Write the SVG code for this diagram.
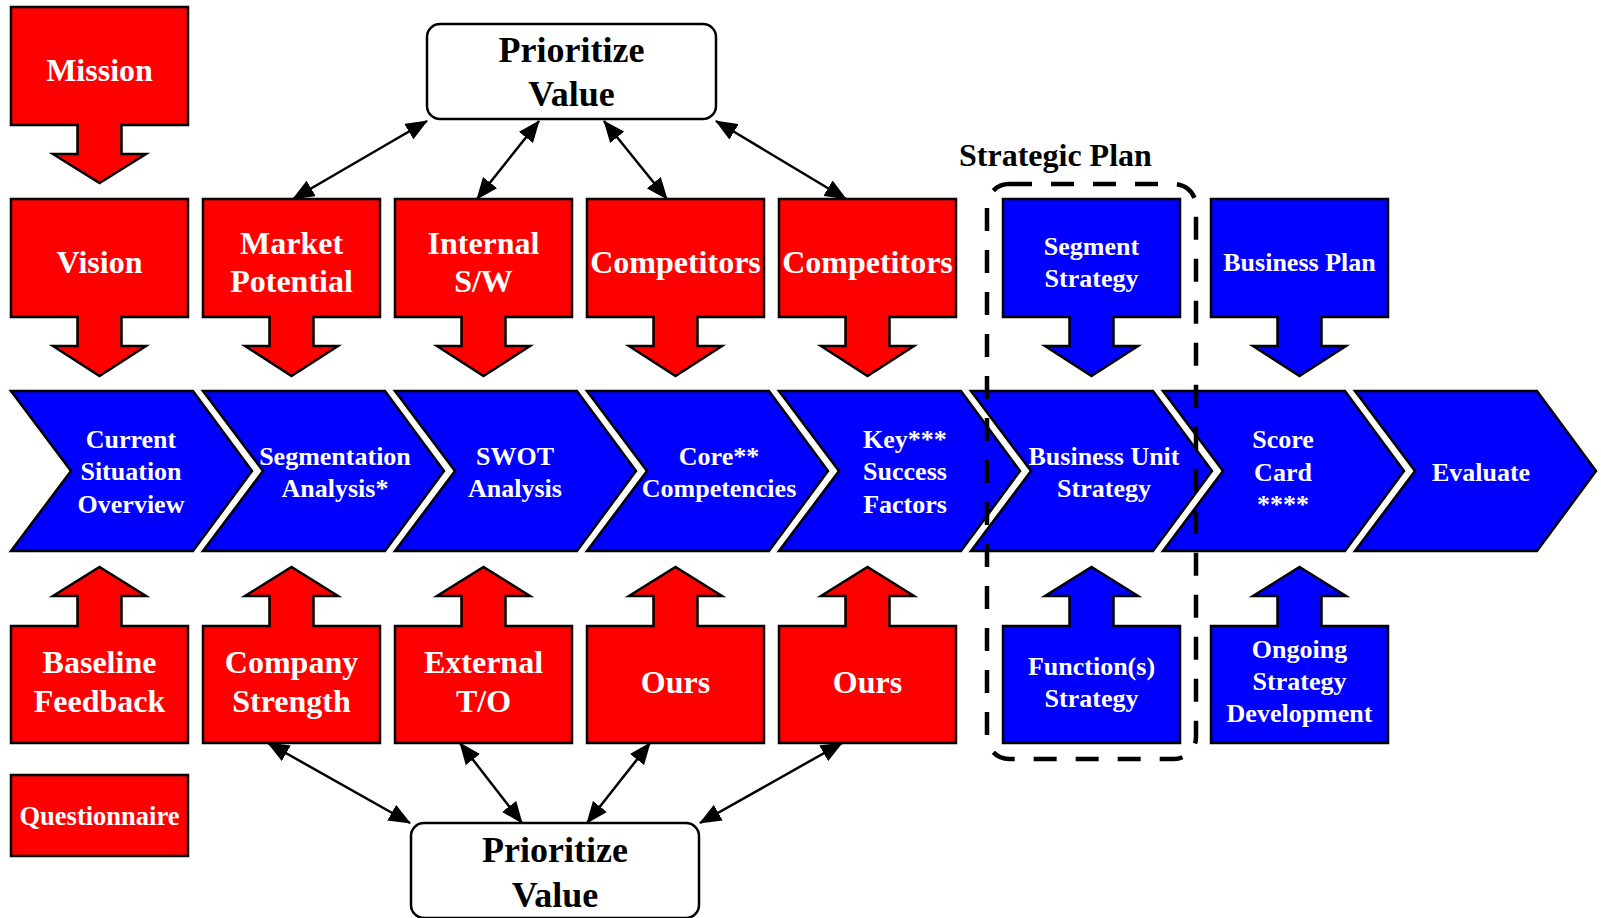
<svg xmlns="http://www.w3.org/2000/svg" width="1601" height="918" viewBox="0 0 1601 918">
<defs>
<style>
.red{fill:#FF0000;stroke:#000;stroke-width:2.5;stroke-linejoin:miter}
.blue{fill:#0000FF;stroke:#000;stroke-width:2.5;stroke-linejoin:miter}
.pv{fill:#fff;stroke:#000;stroke-width:2.5}
.t{font-family:"Liberation Serif","Times New Roman",serif;font-weight:bold;fill:#fff;text-anchor:middle}
.t32{font-size:32px}
.t26{font-size:26px}
.tb{font-family:"Liberation Serif","Times New Roman",serif;font-weight:bold;fill:#000;text-anchor:middle;font-size:36px}
.conn{stroke:#000;stroke-width:2.5;fill:none;marker-start:url(#ah);marker-end:url(#ah)}
.dash{fill:none;stroke:#000;stroke-width:4.5;stroke-dasharray:23 19}
</style>
<marker id="ah" markerUnits="userSpaceOnUse" markerWidth="22" markerHeight="18" viewBox="0 0 22 18" refX="21" refY="9" orient="auto-start-reverse">
<path d="M0,0 L22,9 L0,18 z" fill="#000"/>
</marker>
</defs>

<g id="connectors">
<line class="conn" x1="293" y1="199" x2="427" y2="121"/>
<line class="conn" x1="477" y1="199" x2="539" y2="121"/>
<line class="conn" x1="667" y1="199" x2="604" y2="121"/>
<line class="conn" x1="846" y1="199" x2="716" y2="121"/>
<line class="conn" x1="268" y1="743" x2="410" y2="823"/>
<line class="conn" x1="460" y1="743" x2="522" y2="823"/>
<line class="conn" x1="650" y1="743" x2="587" y2="823"/>
<line class="conn" x1="842" y1="743" x2="700" y2="823"/>
</g>

<g id="prioritize-top">
<rect class="pv" x="427" y="24" width="289" height="95" rx="13"/>
<text class="tb" x="571.5" y="62">Prioritize</text>
<text class="tb" x="571.5" y="106">Value</text>
</g>
<g id="prioritize-bottom">
<rect class="pv" x="411" y="823" width="288" height="95" rx="13"/>
<text class="tb" x="555" y="862">Prioritize</text>
<text class="tb" x="555" y="907">Value</text>
</g>

<g id="mission">
<polygon class="red" points="11,7 188,7 188,125 121.5,125 121.5,154 146,154 99.5,183 53,154 77.5,154 77.5,125 11,125"/>
<text class="t t32" x="99.5" y="81">Mission</text>
</g>

<g id="vision">
<polygon class="red" points="11,199 188,199 188,317 121.5,317 121.5,346 146,346 99.5,376 53,346 77.5,346 77.5,317 11,317"/>
<text class="t t32" x="99.5" y="273">Vision</text>
</g>
<g id="market-potential">
<polygon class="red" points="203,199 380,199 380,317 313.5,317 313.5,346 338,346 291.5,376 245,346 269.5,346 269.5,317 203,317"/>
<text class="t t32" x="291.5" y="254">Market</text>
<text class="t t32" x="291.5" y="292">Potential</text>
</g>
<g id="internal-sw">
<polygon class="red" points="395,199 572,199 572,317 505.5,317 505.5,346 530,346 483.5,376 437,346 461.5,346 461.5,317 395,317"/>
<text class="t t32" x="483.5" y="254">Internal</text>
<text class="t t32" x="483.5" y="292">S/W</text>
</g>
<g id="competitors-1">
<polygon class="red" points="587,199 764,199 764,317 697.5,317 697.5,346 722,346 675.5,376 629,346 653.5,346 653.5,317 587,317"/>
<text class="t t32" x="675.5" y="273">Competitors</text>
</g>
<g id="competitors-2">
<polygon class="red" points="779,199 956,199 956,317 889.5,317 889.5,346 914,346 867.5,376 821,346 845.5,346 845.5,317 779,317"/>
<text class="t t32" x="867.5" y="273">Competitors</text>
</g>
<g id="segment-strategy">
<polygon class="blue" points="1003,199 1180,199 1180,317 1113.5,317 1113.5,346 1138,346 1091.5,376 1045,346 1069.5,346 1069.5,317 1003,317"/>
<text class="t t26" x="1091.5" y="255">Segment</text>
<text class="t t26" x="1091.5" y="287">Strategy</text>
</g>
<g id="business-plan">
<polygon class="blue" points="1211,199 1388,199 1388,317 1321.5,317 1321.5,346 1346,346 1299.5,376 1253,346 1277.5,346 1277.5,317 1211,317"/>
<text class="t t26" x="1299.5" y="271">Business Plan</text>
</g>

<g id="chevron-current">
<polygon class="blue" points="11,391 193,391 252,471 193,551 11,551 71,471"/>
<text class="t t26" x="131" y="448">Current</text>
<text class="t t26" x="131" y="480">Situation</text>
<text class="t t26" x="131" y="513">Overview</text>
</g>
<g id="chevron-segmentation">
<polygon class="blue" points="203,391 385,391 444,471 385,551 203,551 263,471"/>
<text class="t t26" x="335" y="465">Segmentation</text>
<text class="t t26" x="335" y="497">Analysis*</text>
</g>
<g id="chevron-swot">
<polygon class="blue" points="395,391 577,391 636,471 577,551 395,551 455,471"/>
<text class="t t26" x="515" y="465">SWOT</text>
<text class="t t26" x="515" y="497">Analysis</text>
</g>
<g id="chevron-core">
<polygon class="blue" points="587,391 769,391 828,471 769,551 587,551 647,471"/>
<text class="t t26" x="719" y="465">Core**</text>
<text class="t t26" x="719" y="497">Competencies</text>
</g>
<g id="chevron-key">
<polygon class="blue" points="779,391 961,391 1020,471 961,551 779,551 839,471"/>
<text class="t t26" x="905" y="448">Key***</text>
<text class="t t26" x="905" y="480">Success</text>
<text class="t t26" x="905" y="513">Factors</text>
</g>
<g id="chevron-business-unit">
<polygon class="blue" points="971,391 1153,391 1212,471 1153,551 971,551 1031,471"/>
<text class="t t26" x="1104" y="465">Business Unit</text>
<text class="t t26" x="1104" y="497">Strategy</text>
</g>
<g id="chevron-score-card">
<polygon class="blue" points="1163,391 1345,391 1404,471 1345,551 1163,551 1223,471"/>
<text class="t t26" x="1283" y="448">Score</text>
<text class="t t26" x="1283" y="481">Card</text>
<text class="t t26" x="1283" y="513">****</text>
</g>
<g id="chevron-evaluate">
<polygon class="blue" points="1355,391 1537,391 1596,471 1537,551 1355,551 1415,471"/>
<text class="t t26" x="1481" y="481">Evaluate</text>
</g>

<g id="baseline-feedback">
<polygon class="red" points="11,626 77.5,626 77.5,596 53,596 99.5,567 146,596 121.5,596 121.5,626 188,626 188,743 11,743"/>
<text class="t t32" x="99.5" y="673">Baseline</text>
<text class="t t32" x="99.5" y="712">Feedback</text>
</g>
<g id="company-strength">
<polygon class="red" points="203,626 269.5,626 269.5,596 245,596 291.5,567 338,596 313.5,596 313.5,626 380,626 380,743 203,743"/>
<text class="t t32" x="291.5" y="673">Company</text>
<text class="t t32" x="291.5" y="712">Strength</text>
</g>
<g id="external-to">
<polygon class="red" points="395,626 461.5,626 461.5,596 437,596 483.5,567 530,596 505.5,596 505.5,626 572,626 572,743 395,743"/>
<text class="t t32" x="483.5" y="673">External</text>
<text class="t t32" x="483.5" y="712">T/O</text>
</g>
<g id="ours-1">
<polygon class="red" points="587,626 653.5,626 653.5,596 629,596 675.5,567 722,596 697.5,596 697.5,626 764,626 764,743 587,743"/>
<text class="t t32" x="675.5" y="693">Ours</text>
</g>
<g id="ours-2">
<polygon class="red" points="779,626 845.5,626 845.5,596 821,596 867.5,567 914,596 889.5,596 889.5,626 956,626 956,743 779,743"/>
<text class="t t32" x="867.5" y="693">Ours</text>
</g>
<g id="functions-strategy">
<polygon class="blue" points="1003,626 1069.5,626 1069.5,596 1045,596 1091.5,567 1138,596 1113.5,596 1113.5,626 1180,626 1180,743 1003,743"/>
<text class="t t26" x="1091.5" y="675">Function(s)</text>
<text class="t t26" x="1091.5" y="707">Strategy</text>
</g>
<g id="ongoing-strategy">
<polygon class="blue" points="1211,626 1277.5,626 1277.5,596 1253,596 1299.5,567 1346,596 1321.5,596 1321.5,626 1388,626 1388,743 1211,743"/>
<text class="t t26" x="1299.5" y="658">Ongoing</text>
<text class="t t26" x="1299.5" y="690">Strategy</text>
<text class="t t26" x="1299.5" y="722">Development</text>
</g>

<g id="questionnaire">
<rect class="red" x="11" y="775" width="177" height="81"/>
<text class="t" style="font-size:26.5px" x="99.5" y="825">Questionnaire</text>
</g>

<g id="strategic-plan">
<rect class="dash" x="987" y="184" width="209" height="575" rx="22"/>
<text x="959" y="166" style="font-family:'Liberation Serif','Times New Roman',serif;font-weight:bold;font-size:32px;fill:#000">Strategic Plan</text>
</g>
</svg>
